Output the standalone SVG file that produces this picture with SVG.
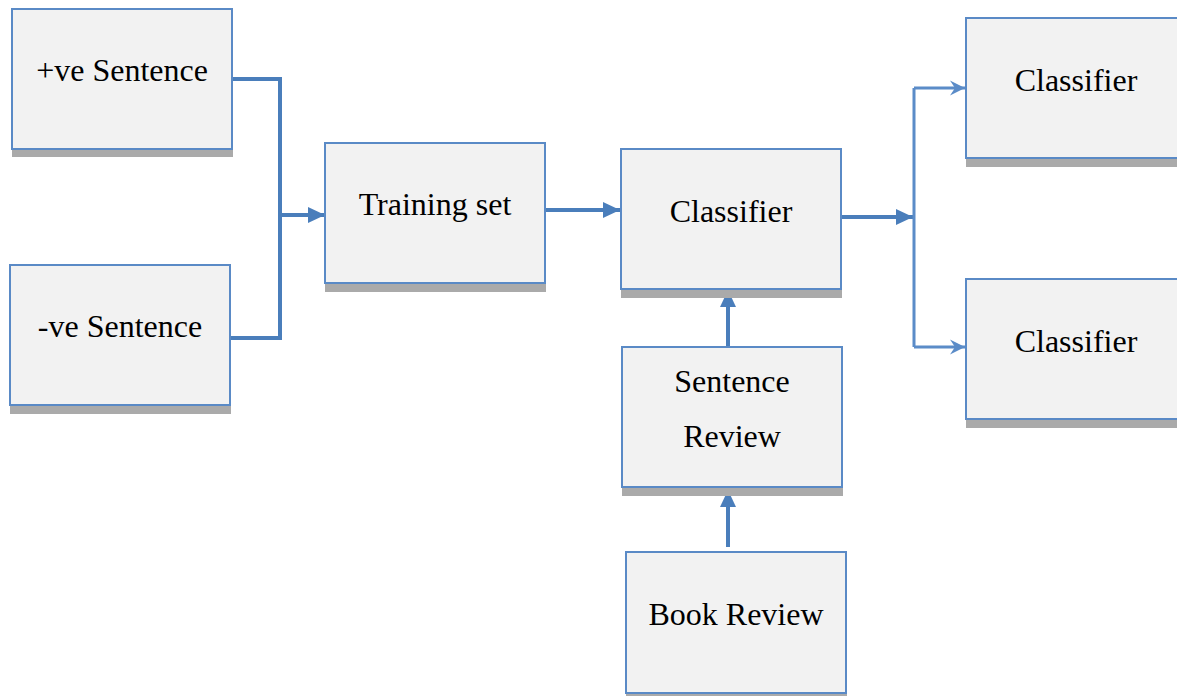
<svg xmlns="http://www.w3.org/2000/svg" width="1177" height="696" viewBox="0 0 1177 696">
<style>
.box{fill:#f2f2f2;stroke:#5a8ac6;stroke-width:2}
.sh{fill:#aaaaaa}
.t{font-family:'Liberation Serif','DejaVu Serif',serif;font-size:32px;fill:#000;text-anchor:middle}
.c{fill:none;stroke:#4a7ebb;stroke-width:4}
.c2{fill:none;stroke:#5b8cc8;stroke-width:3}
</style>
<defs>
<marker id="ah" markerUnits="userSpaceOnUse" markerWidth="17" markerHeight="17" refX="17" refY="8.5" orient="auto">
<path d="M0,0.5 L17,8.5 L0,16.5 Z" fill="#4a7ebb"/>
</marker>
<marker id="ah2" markerUnits="userSpaceOnUse" markerWidth="16" markerHeight="16" refX="15" refY="8" orient="auto">
<path d="M0,0.5 L15,8 L0,15.5 L5,8 Z" fill="#5b8cc8"/>
</marker>
</defs>
<g id="connectors">
<path class="c" d="M232,79 H280 V338 H230"/>
<path class="c" d="M280,215 H325" marker-end="url(#ah)"/>
<path class="c" d="M545,210 H620" marker-end="url(#ah)"/>
<path class="c" d="M841,217 H913" marker-end="url(#ah)"/>
<path class="c2" d="M914,88 V347"/>
<path class="c2" d="M914,88 H965" marker-end="url(#ah2)"/>
<path class="c2" d="M914,347 H965" marker-end="url(#ah2)"/>
<path class="c" d="M728,346 V290" marker-end="url(#ah)"/>
<path class="c" d="M728,547 V490" marker-end="url(#ah)"/>
</g>
<g id="pos">
<rect class="sh" x="12" y="149" width="221" height="8"/>
<rect class="box" x="12" y="9" width="220" height="140"/>
<text class="t" x="122" y="81">+ve Sentence</text>
</g>
<g id="neg">
<rect class="sh" x="10" y="405" width="221" height="9"/>
<rect class="box" x="10" y="265" width="220" height="140"/>
<text class="t" x="120" y="337">-ve Sentence</text>
</g>
<g id="training">
<rect class="sh" x="325" y="283" width="221" height="9"/>
<rect class="box" x="325" y="143" width="220" height="140"/>
<text class="t" x="435" y="215">Training set</text>
</g>
<g id="classifier">
<rect class="sh" x="621" y="289" width="221" height="9"/>
<rect class="box" x="621" y="149" width="220" height="140"/>
<text class="t" x="731" y="222">Classifier</text>
</g>
<g id="classifier-top">
<rect class="sh" x="966" y="158" width="221" height="9"/>
<rect class="box" x="966" y="18" width="220" height="140"/>
<text class="t" x="1076" y="91">Classifier</text>
</g>
<g id="classifier-bottom">
<rect class="sh" x="966" y="419" width="221" height="9"/>
<rect class="box" x="966" y="279" width="220" height="140"/>
<text class="t" x="1076" y="352">Classifier</text>
</g>
<g id="sentence-review">
<rect class="sh" x="622" y="487" width="221" height="9"/>
<rect class="box" x="622" y="347" width="220" height="140"/>
<text class="t" x="732" y="392">Sentence</text>
<text class="t" x="732" y="447">Review</text>
</g>
<g id="book-review">
<rect class="sh" x="626" y="693" width="221" height="9"/>
<rect class="box" x="626" y="552" width="220" height="141"/>
<text class="t" x="736" y="625">Book Review</text>
</g>
</svg>
